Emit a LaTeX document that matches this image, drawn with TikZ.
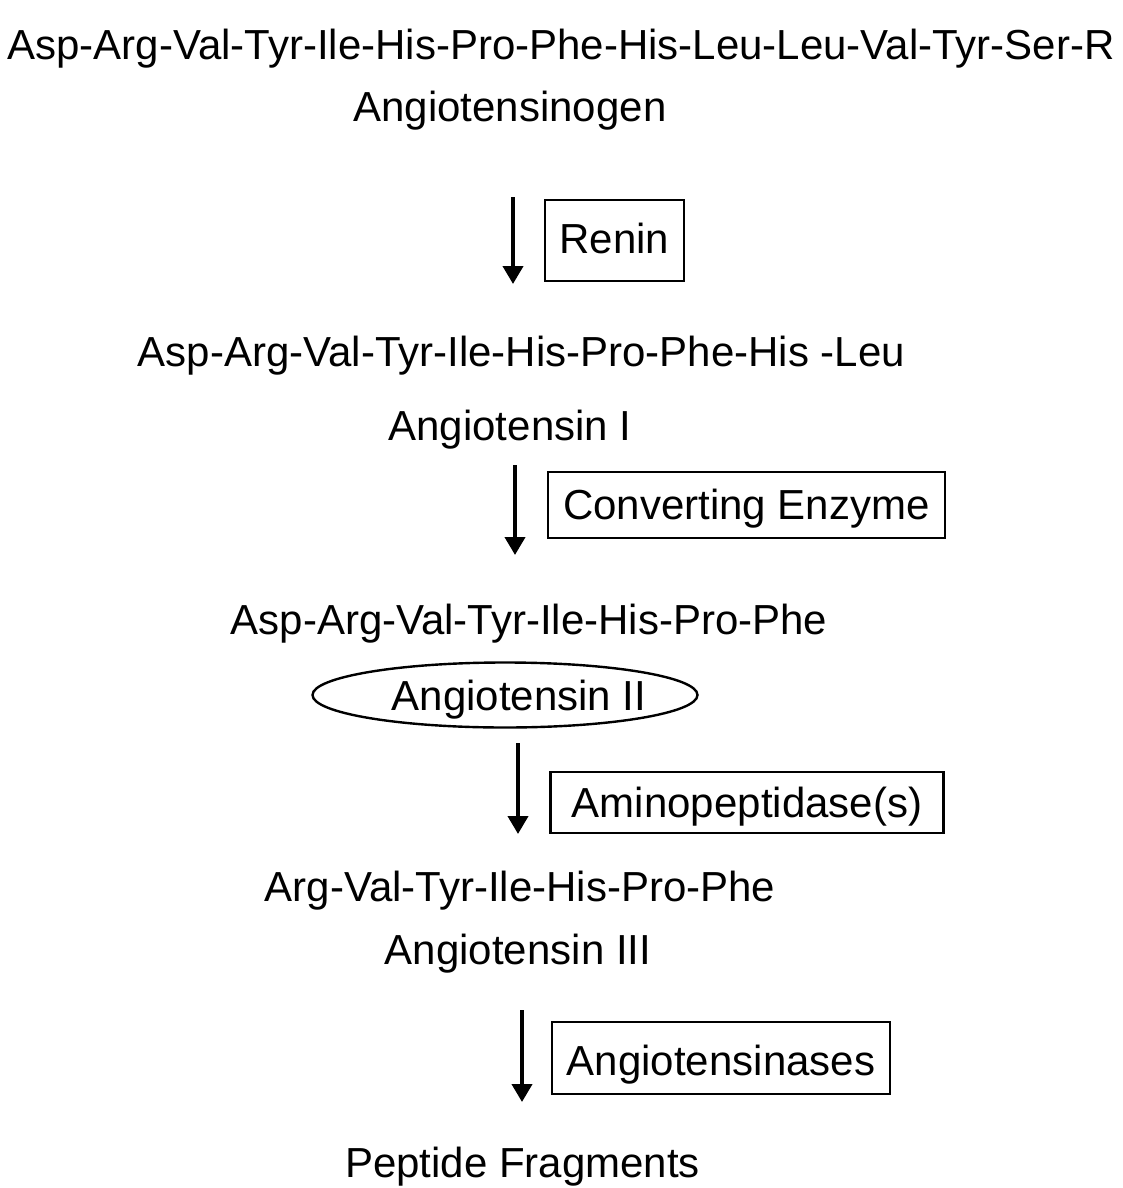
\documentclass[tikz,border=0pt]{standalone}
\usepackage{fontspec}
\setmainfont{Liberation Sans}
\usetikzlibrary{arrows.meta,shapes.geometric}
\begin{document}
\begin{tikzpicture}[x=1pt,y=-1pt,
  txt/.style={anchor=base,inner sep=0pt,font=\fontsize{42}{50}\selectfont},
  enzbox/.style={txt,draw,line width=2.4pt,align=center},
  ellbox/.style={ellipse,draw,line width=2.4pt,inner sep=0pt},
  rxarrow/.style={line width=4pt,-{Triangle[width=20pt,length=18pt]}}]
\useasboundingbox[fill=white] (0,0) rectangle (1123,1188);

\node[txt] (agen) at (561,60) {Asp-Arg-Val-Tyr-Ile-His-Pro-Phe-His-Leu-Leu-Val-Tyr-Ser-R};
\node[txt] (agenlbl) at (510,122) {Angiotensinogen};

\coordinate (a1s) at (513,197);
\coordinate (a1e) at (513,284);
\draw[rxarrow] (a1s) -- (a1e);
\node[enzbox,minimum width=139pt,text height=53pt,text depth=28pt] (renin) at (614.5,253) {Renin};

\node[txt] (ang1) at (521.5,366) {Asp-Arg-Val-Tyr-Ile-His-Pro-Phe-His -Leu};
\node[txt] (ang1lbl) at (510,440) {Angiotensin I};

\coordinate (a2s) at (515,465);
\coordinate (a2e) at (515,555);
\draw[rxarrow] (a2s) -- (a2e);
\node[enzbox,minimum width=397pt,text height=47pt,text depth=19pt] (ace) at (746.5,519) {Converting Enzyme};

\node[txt] (ang2) at (529,634) {Asp-Arg-Val-Tyr-Ile-His-Pro-Phe};
\node[ellbox,minimum width=385pt,minimum height=65pt] (ang2ell) at (505,695) {};
\node[txt] (ang2lbl) at (519,710) {Angiotensin II};

\coordinate (a3s) at (518,743);
\coordinate (a3e) at (518,834);
\draw[rxarrow] (a3s) -- (a3e);
\node[enzbox,minimum width=393pt,text height=45pt,text depth=16pt] (amp) at (747,817) {Aminopeptidase(s)};

\node[txt] (ang3) at (520,901) {Arg-Val-Tyr-Ile-His-Pro-Phe};
\node[txt] (ang3lbl) at (518,964) {Angiotensin III};

\coordinate (a4s) at (522,1010);
\coordinate (a4e) at (522,1102);
\draw[rxarrow] (a4s) -- (a4e);
\node[enzbox,minimum width=338pt,text height=53pt,text depth=19pt] (aase) at (721,1075) {Angiotensinases};

\node[txt] (frag) at (522.5,1177) {Peptide Fragments};
\end{tikzpicture}
\end{document}
